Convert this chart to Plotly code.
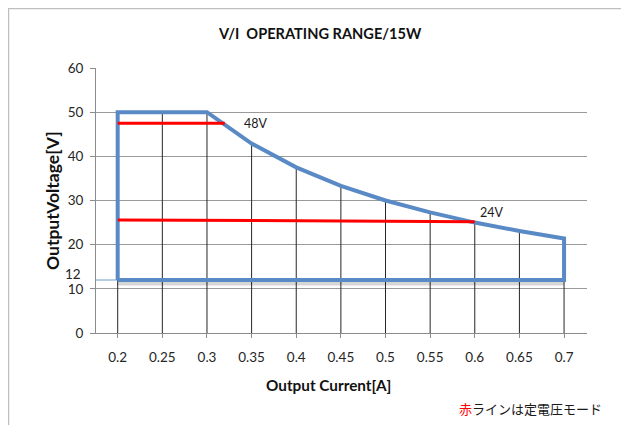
import plotly.graph_objects as go

# ---- data ----
current = [0.2, 0.25, 0.3, 0.35, 0.4, 0.45, 0.5, 0.55, 0.6, 0.65, 0.7]
tick_labels = ["0.2", "0.25", "0.3", "0.35", "0.4", "0.45", "0.5", "0.55", "0.6", "0.65", "0.7"]
upper_voltage = [50, 50, 50, 42.9, 37.5, 33.3, 30, 27.3, 25, 23.1, 21.4]
min_voltage = 12
cv48_x = [0.2, 0.32]
cv48_y = [47.5, 47.5]
cv24_x = [0.2, 0.6]
cv24_y = [25.6, 25.2]
y_ticks = [0, 10, 20, 30, 40, 50, 60]

# ---- layout constants (page has an 8px body margin) ----
OFF = 8
W, H = 629 - OFF, 425 - OFF
PLOT_L, PLOT_R, PLOT_T, PLOT_B = 96, 587, 68, 333  # screen pixels
ML, MR = PLOT_L - OFF, W - (PLOT_R - OFF)
MT, MB = PLOT_T - OFF, H - (PLOT_B - OFF)
PW = PLOT_R - PLOT_L
PH = PLOT_B - PLOT_T
FONT = "Lato"

def px_x(px):
    return (px - PLOT_L) / PW

def px_y(py):
    return (PLOT_B - py) / PH

fig = go.Figure()

# drop lines (black verticals from axis to the upper boundary)
dx, dy = [], []
for c, v in zip(current, upper_voltage):
    dx += [c, c, None]
    dy += [0, v, None]
fig.add_trace(go.Scatter(x=dx, y=dy, mode="lines",
                         line=dict(color="#262626", width=1), hoverinfo="skip"))

# thin blue reference at 12 V from axis to first point
fig.add_trace(go.Scatter(x=[0.17, current[0]], y=[min_voltage, min_voltage], mode="lines",
                         line=dict(color="#6f9bd1", width=1), hoverinfo="skip"))

# shadow under the bottom edge
fig.add_trace(go.Scatter(x=[current[0], current[-1]], y=[min_voltage - 0.8, min_voltage - 0.8],
                         mode="lines", line=dict(color="rgba(0,0,0,0.16)", width=4),
                         hoverinfo="skip"))

# operating range outline
ox = [current[0]] + current + [current[-1], current[0]]
oy = [min_voltage] + upper_voltage + [min_voltage, min_voltage]
fig.add_trace(go.Scatter(x=ox, y=oy, mode="lines",
                         line=dict(color="#5a8ac6", width=4), hoverinfo="skip"))

# constant-voltage lines (red)
fig.add_trace(go.Scatter(x=cv48_x, y=cv48_y, mode="lines",
                         line=dict(color="#ff0000", width=3), hoverinfo="skip"))
fig.add_trace(go.Scatter(x=cv24_x, y=cv24_y, mode="lines",
                         line=dict(color="#ff0000", width=3), hoverinfo="skip"))

annotations = [
    dict(text="<b>V/I  OPERATING RANGE/15W</b>", xref="paper", yref="paper",
         x=px_x(320), y=px_y(33), xanchor="center", yanchor="middle", showarrow=False,
         font=dict(family=FONT, size=14.6, color="#111111")),
    dict(text="<b>OutputVoltage[V]</b>", xref="paper", yref="paper",
         x=px_x(52), y=px_y(201), xanchor="center", yanchor="middle", showarrow=False,
         textangle=-90, font=dict(family=FONT, size=17.5, color="#111111")),
    dict(text="<b>Output Current[A]</b>", xref="paper", yref="paper",
         x=px_x(328), y=px_y(385), xanchor="center", yanchor="middle", showarrow=False,
         font=dict(family=FONT, size=15.3, color="#111111")),
    dict(text="12", xref="paper", yref="y", x=px_x(83), y=min_voltage, yshift=6,
         xanchor="right", yanchor="middle", showarrow=False,
         font=dict(family=FONT, size=13.5, color="#262626")),
    dict(text="48V", x=0.3393, y=cv48_y[0], xanchor="left", yanchor="middle",
         showarrow=False, font=dict(family=FONT, size=12.5, color="#1a1a1a")),
    dict(text="24V", x=0.6037, y=27.2, xanchor="left", yanchor="middle",
         showarrow=False, font=dict(family=FONT, size=12.5, color="#1a1a1a")),
    dict(text='<span style="color:#ff0000">赤</span>ラインは定電圧モード',
         xref="paper", yref="paper", x=px_x(530), y=px_y(408),
         xanchor="center", yanchor="middle", showarrow=False,
         font=dict(family="Noto Sans CJK JP", size=13, color="#1a1a1a")),
]

# spreadsheet-like frame
shapes = [
    dict(type="line", xref="paper", yref="paper", x0=px_x(8), x1=px_x(629), y0=px_y(8.5), y1=px_y(8.5),
         line=dict(color="#bfbfbf", width=1.5)),
    dict(type="line", xref="paper", yref="paper", x0=px_x(8.5), x1=px_x(8.5), y0=px_y(8), y1=px_y(425),
         line=dict(color="#bfbfbf", width=1.5)),
]

fig.update_layout(
    width=W, height=H,
    margin=dict(l=ML, r=MR, t=MT, b=MB, pad=0),
    paper_bgcolor="white", plot_bgcolor="white",
    showlegend=False,
    annotations=annotations,
    shapes=shapes,
    xaxis=dict(range=[0.1757, 0.7257], tickvals=current, ticktext=tick_labels,
               showgrid=False, zeroline=False, showline=True, linecolor="#8c8c8c",
               ticks="outside", ticklen=4, tickcolor="#8c8c8c", ticklabelstandoff=8,
               tickfont=dict(family=FONT, size=13.5, color="#262626")),
    yaxis=dict(range=[0, 60], tickvals=y_ticks, showgrid=True, gridcolor="#9a9a9a",
               gridwidth=1, zeroline=False, showline=True, linecolor="#8c8c8c",
               ticks="outside", ticklen=5, tickcolor="#8c8c8c", ticklabelstandoff=4,
               tickfont=dict(family=FONT, size=13.5, color="#262626")),
)

fig.write_html("out.html")
